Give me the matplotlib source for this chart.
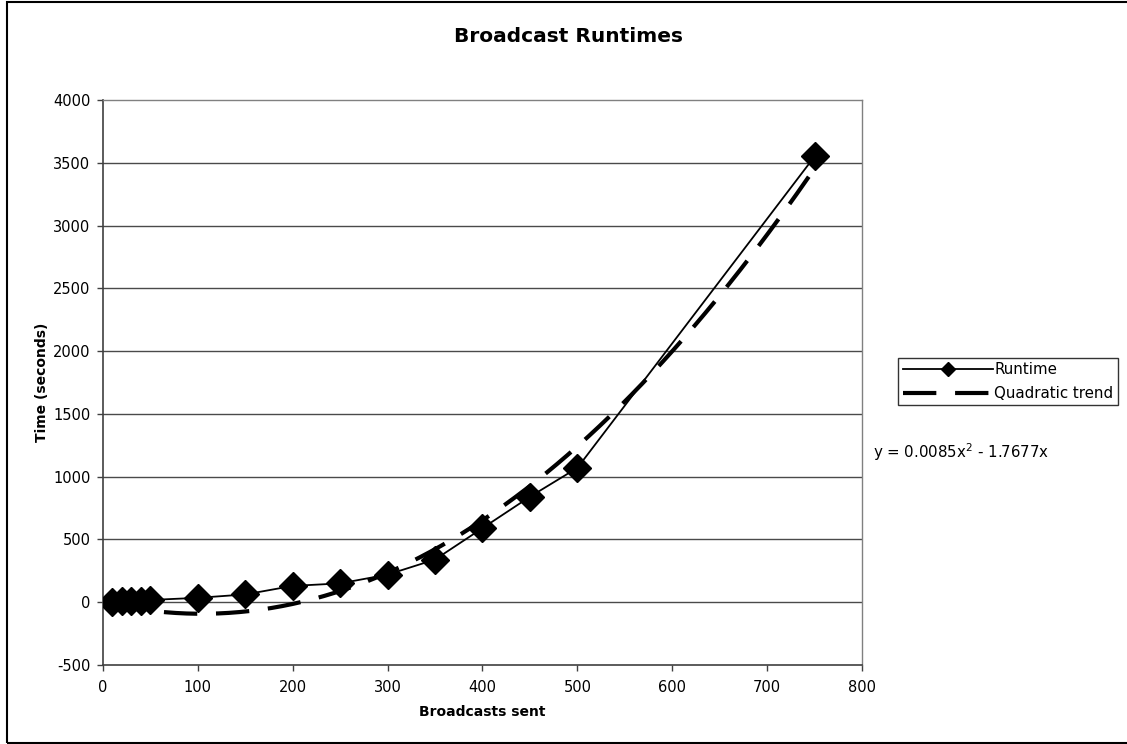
import matplotlib
matplotlib.use("Agg")
import matplotlib.pyplot as plt
import numpy as np
from matplotlib.patches import Rectangle

# data
broadcasts = [10, 20, 30, 40, 50, 100, 150, 200, 250, 300, 350, 400, 450, 500, 750]
runtime = [3, 6, 9, 13, 18, 35, 62, 130, 150, 220, 340, 590, 840, 1070, 3550]
trend_coef = [0.0085, -1.7677, 0.0]   # y = 0.0085x^2 - 1.7677x

x_ticks = [0, 100, 200, 300, 400, 500, 600, 700, 800]
y_ticks = [-500, 0, 500, 1000, 1500, 2000, 2500, 3000, 3500, 4000]

plt.rcParams['font.family'] = ['DejaVu Sans']
plt.rcParams['axes.unicode_minus'] = False

fig = plt.figure(figsize=(11.27, 7.44), dpi=100)
ax = fig.add_axes([103/1127, 1 - 665/744, 759/1127, 565/744])

# gridlines
for yv in y_ticks[1:-1]:
    ax.axhline(yv, color='#4a4a4a', lw=1.0, zorder=1)

ax.plot(broadcasts, runtime, color='black', lw=1.3, marker='D', markersize=14.5,
        markerfacecolor='black', markeredgecolor='black', label='Runtime', zorder=3)

xt = np.linspace(min(broadcasts), max(broadcasts), 200)
ax.plot(xt, np.polyval(trend_coef, xt), color='black', lw=3.0, dashes=(8, 4.5),
        label='Quadratic trend', zorder=4)

ax.set_xlim(0, 800)
ax.set_ylim(-500, 4000)
ax.set_xticks(x_ticks)
ax.set_yticks(y_ticks)
ax.tick_params(direction='out', length=4, width=1, color='#404040', labelsize=10.5, pad=5)
ax.tick_params(axis='x', pad=7)

for side in ['left', 'bottom']:
    ax.spines[side].set_color('#404040')
    ax.spines[side].set_linewidth(1.2)
for side in ['top', 'right']:
    ax.spines[side].set_color('#808080')
    ax.spines[side].set_linewidth(1.0)

# Excel centres the chart title on the whole chart area
fig.text(569/1127, 1 - 37/744, 'Broadcast Runtimes', fontsize=14.5, fontweight='bold',
         ha='center', va='center')
ax.set_xlabel('Broadcasts sent', fontsize=10, fontweight='bold')
ax.set_ylabel('Time (seconds)', fontsize=10, fontweight='bold')
ax.xaxis.set_label_coords(0.5, -0.071)
ax.yaxis.set_label_coords(-0.071, 0.5)

leg = fig.legend(loc='upper left', bbox_to_anchor=(898/1127, 1 - 358/744), fontsize=10.8,
                 frameon=True, fancybox=False, shadow=False, handlelength=6.0,
                 markerscale=0.5, borderaxespad=0, borderpad=0.3, labelspacing=0.55,
                 handletextpad=0.1)
leg.get_frame().set_edgecolor('black')
leg.get_frame().set_linewidth(1.0)

fig.text(873/1127, 1 - 452/744, 'y = 0.0085x$^{2}$ - 1.7677x', fontsize=10.8,
         va='center', ha='left')

# outer chart border
fig.patches.append(Rectangle((7/1127, 1/744), 1.2, 741/744, transform=fig.transFigure,
                             fill=False, edgecolor='black', lw=1.5))

fig.savefig('out.png', dpi=100)
